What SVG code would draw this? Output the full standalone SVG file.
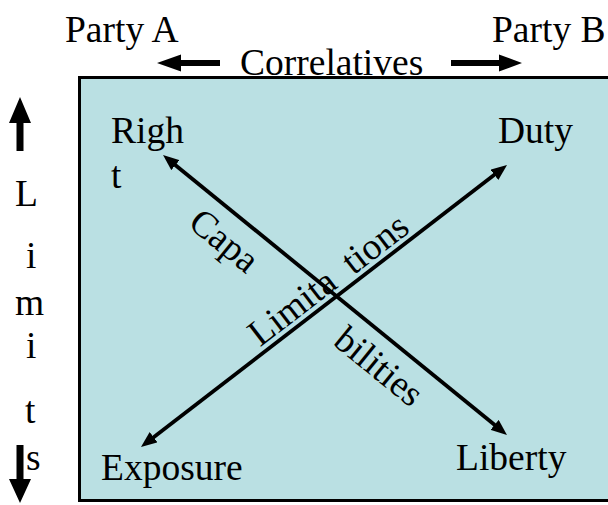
<svg xmlns="http://www.w3.org/2000/svg" width="608" height="505" viewBox="0 0 608 505">
<defs>
<style>
text{font-family:"Liberation Serif","Times New Roman",serif;font-size:37.5px;fill:#000}
.conn{stroke:#000;stroke-width:3.8;fill:none;marker-start:url(#ah);marker-end:url(#ah)}
.blk{fill:#000}
</style>
<marker id="ah" viewBox="0 0 16 13" markerWidth="16" markerHeight="13" refX="7" refY="6.5" orient="auto-start-reverse" markerUnits="userSpaceOnUse">
<path d="M0,0 L16,6.5 L0,13 z" fill="#000"/>
</marker>
</defs>
<rect x="0" y="0" width="608" height="505" fill="#fff"/>
<g id="frame">
<rect x="79.5" y="77.5" width="540" height="423" fill="#bae0e3" stroke="#000" stroke-width="3"/>
</g>
<g id="header">
<text x="65" y="42">Party A</text>
<text x="492" y="42">Party B</text>
<text x="240" y="75">Correlatives</text>
<polygon class="blk" points="157,63 181,54.5 181,60 220,60 220,66 181,66 181,71.5"/>
<polygon class="blk" points="451,60 499,60 499,54.5 522,63 499,71.5 499,66 451,66"/>
</g>
<g id="limits">
<text x="15" y="206">L</text>
<text x="26" y="268">i</text>
<text x="15" y="315">m</text>
<text x="26" y="358">i</text>
<text x="25" y="423">t</text>
<text x="26" y="470">s</text>
<polygon class="blk" points="20,97 31,123 23.5,123 23.5,151 16.5,151 16.5,123 9,123"/>
<polygon class="blk" points="16.5,445 23.5,445 23.5,479 31,479 20,503 9,479 16.5,479"/>
</g>
<g id="connectors">
<line class="conn" x1="170" y1="160.7" x2="500" y2="429.3"/>
<line class="conn" x1="148.1" y1="441.5" x2="499.9" y2="170.5"/>
</g>
<g id="right"><text x="111" y="143">Righ</text><text x="111" y="188">t</text></g>
<g id="duty"><text x="498" y="143">Duty</text></g>
<g id="exposure"><text x="101" y="480">Exposure</text></g>
<g id="liberty"><text x="456" y="470">Liberty</text></g>
<g id="capabilities">
<text transform="translate(186.7,225.8) rotate(39.14)">Capa</text>
<text transform="translate(331.7,343.8) rotate(39.14)">bilities</text>
</g>
<g id="limitations">
<text transform="translate(260.1,347.6) rotate(-37.61)">Limita</text>
<text transform="translate(353.6,275.5) rotate(-37.61)">tions</text>
</g>
</svg>
